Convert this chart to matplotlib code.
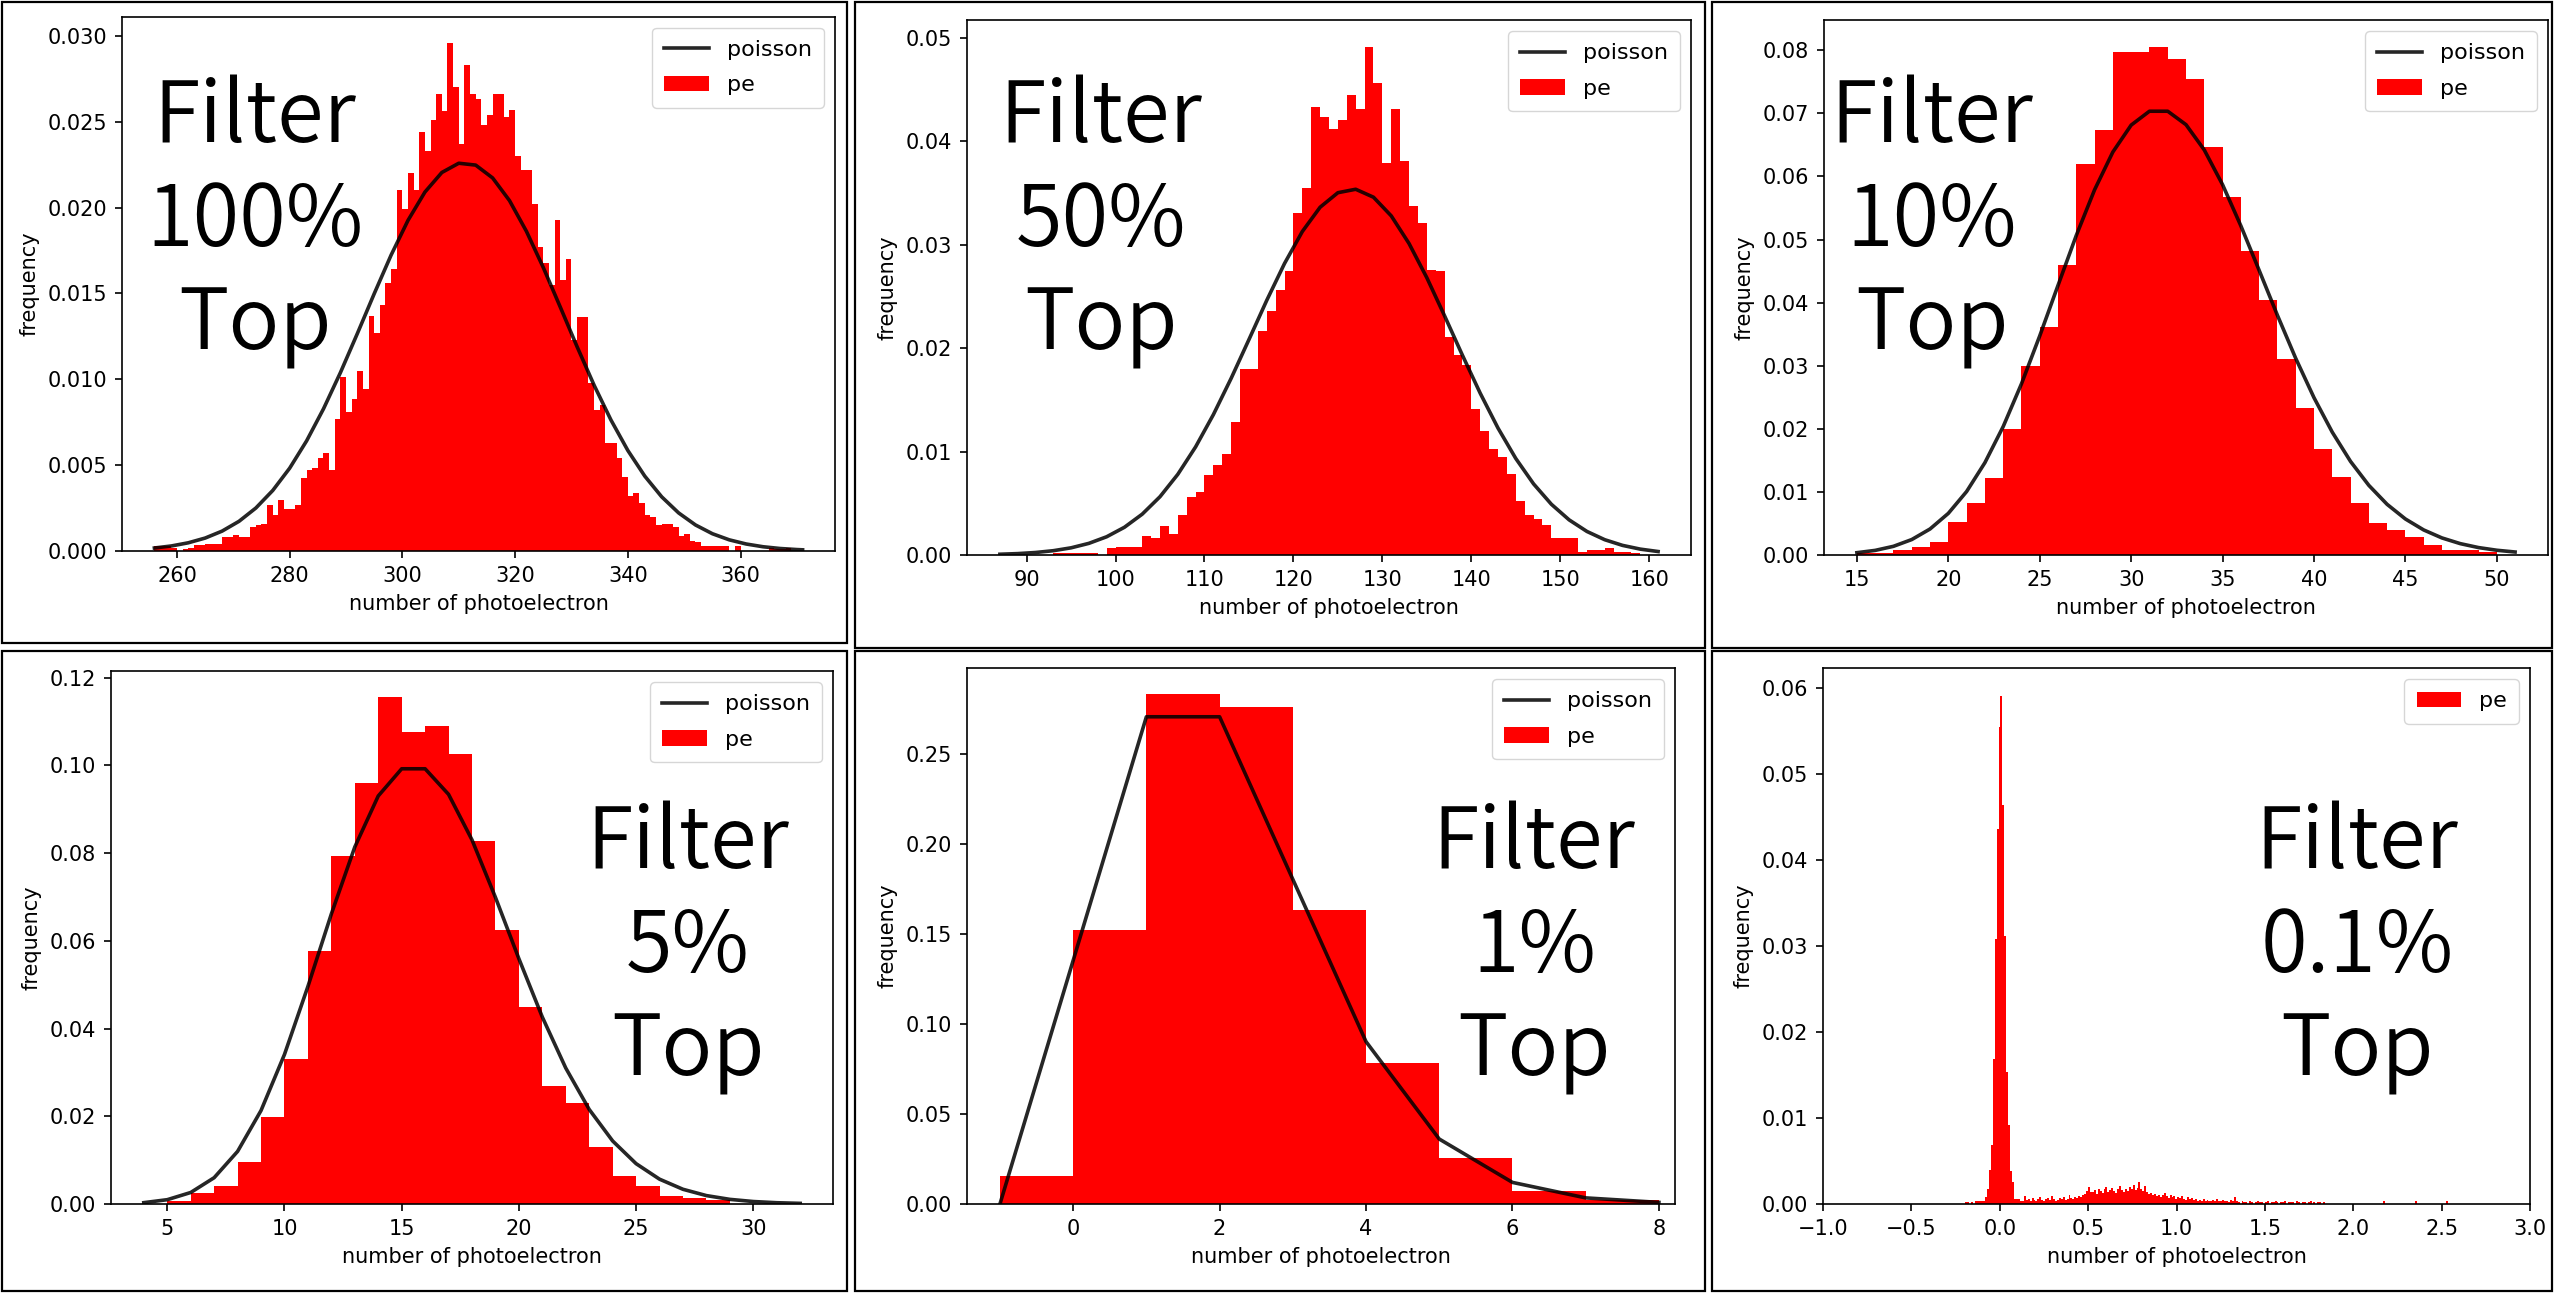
import numpy as np
import matplotlib
matplotlib.use("Agg")
import matplotlib.pyplot as plt
from matplotlib.patches import Rectangle

# Photoelectron count histograms for six filter settings, with Poisson reference

W, H = 2554, 1293

# ---- data -------------------------------------------------------------
# 100% filter (bin width 1, first edge 256), frequency in units of 1e-3
pe100_start = 256
pe100 = [0.3, 0.3, 0.3, 0.2, 0.0, 0.1, 0.2, 0.33, 0.33, 0.39,
         0.39, 0.39, 0.79, 0.79, 0.95, 0.79, 0.79, 1.4, 1.5, 1.6,
         2.66, 2.07, 2.95, 2.46, 2.46, 2.66, 4.23, 4.73, 4.82, 5.42,
         5.71, 4.73, 7.68, 10.14, 8.07, 8.86, 10.5, 9.45, 13.7, 12.7,
         14.3, 15.6, 16.4, 21.0, 19.9, 22.0, 21.0, 24.4, 23.3, 25.1,
         26.6, 25.6, 29.6, 27.0, 23.7, 28.3, 26.6, 26.3, 24.8, 25.4,
         26.6, 26.6, 25.3, 25.7, 23.0, 22.2, 22.2, 20.2, 17.7, 16.8,
         15.5, 19.3, 15.8, 17.0, 12.3, 13.6, 13.6, 9.8, 8.2, 8.5,
         6.3, 6.3, 5.4, 4.3, 3.2, 3.4, 2.8, 2.1, 2.0, 1.5,
         1.6, 1.6, 1.4, 0.9, 1.0, 0.6, 0.5, 0.3, 0.3, 0.3,
         0.3, 0.3, 0.0, 0.3, 0.0, 0.0, 0.0, 0.0, 0.0, 0.2,
         0.1, 0.1, 0.2, 0.0]
poi100_x = [256, 259, 262, 265, 268, 271, 274, 277, 280, 283,
            286, 289, 292, 295, 298, 301, 304, 307, 310, 313,
            316, 319, 322, 325, 328, 331, 334, 337, 340, 343,
            346, 349, 352, 355, 358, 361, 364, 367, 370, 371]
poi100_y = [0.000175, 0.000293, 0.000477, 0.000753, 0.001157, 0.001727, 0.002504,
            0.003527, 0.004825, 0.006413, 0.008281, 0.010389, 0.012660, 0.014988,
            0.017239, 0.019261, 0.020907, 0.022046, 0.022584, 0.022475, 0.021729,
            0.020408, 0.018621, 0.016506, 0.014214, 0.011891, 0.009663, 0.007630,
            0.005852, 0.004361, 0.003156, 0.002220, 0.001516, 0.001006, 0.000649,
            0.000407, 0.000247, 0.000146, 0.000084, 0.000069]

# 50% filter (bin width 1, first edge 93), units of 1e-3
pe50_start = 93
pe50 = [0.2, 0.2, 0.2, 0.2, 0.2, 0.0, 0.65, 0.8, 0.8, 0.8,
        1.8, 1.6, 2.8, 2.0, 3.9, 5.6, 6.1, 7.7, 8.7, 9.8,
        12.9, 18.0, 18.0, 21.7, 23.6, 25.6, 27.5, 33.1, 35.5, 43.3,
        42.4, 41.2, 42.1, 44.5, 43.1, 49.1, 45.7, 37.9, 43.1, 38.1,
        33.8, 32.1, 27.6, 27.5, 21.1, 19.3, 18.4, 14.1, 12.0, 10.3,
        9.5, 7.8, 5.2, 3.9, 3.5, 2.9, 1.6, 1.6, 1.6, 0.3,
        0.5, 0.5, 0.65, 0.3, 0.3, 0.2]
poi50_x = [87, 89, 91, 93, 95, 97, 99, 101, 103, 105,
           107, 109, 111, 113, 115, 117, 119, 121, 123, 125,
           127, 129, 131, 133, 135, 137, 139, 141, 143, 145,
           147, 149, 151, 153, 155, 157, 159, 161]
poi50_y = [0.000074, 0.000135, 0.000241, 0.000416, 0.000694, 0.001125, 0.001764,
           0.002682, 0.003951, 0.005640, 0.007802, 0.010456, 0.013580, 0.017091,
           0.020841, 0.024630, 0.028199, 0.031289, 0.033640, 0.035045, 0.035378,
           0.034610, 0.032802, 0.030128, 0.026820, 0.023125, 0.019324, 0.015650,
           0.012278, 0.009336, 0.006878, 0.004909, 0.003397, 0.002277, 0.001479,
           0.000931, 0.000568, 0.000336]

# 10% filter (bin width 1, first edge 15)
pe10_start = 15
pe10 = [0.0003, 0.0003, 0.0008, 0.0012, 0.0020, 0.0052, 0.0083, 0.0122, 0.0199, 0.0300,
        0.0362, 0.0459, 0.0619, 0.0673, 0.0797, 0.0797, 0.0805, 0.0786, 0.0754, 0.0646,
        0.0568, 0.0482, 0.0404, 0.0311, 0.0233, 0.0168, 0.0124, 0.0083, 0.0051, 0.0039,
        0.0029, 0.0016, 0.0008, 0.0008, 0.0005]
poi10_x = list(range(15, 52))
poi10_y = [0.000366, 0.000732, 0.001378, 0.002449, 0.004125, 0.006600, 0.01006,
           0.01463, 0.02035, 0.02713, 0.03473, 0.04274, 0.05066, 0.05789, 0.06388,
           0.06814, 0.07034, 0.07034, 0.06821, 0.06420, 0.05870, 0.05218, 0.04513,
           0.03800, 0.03118, 0.02494, 0.01947, 0.01483, 0.01104, 0.008029, 0.005709,
           0.003972, 0.002704, 0.001803, 0.001177, 0.000753, 0.000473]

# 5% filter (bin width 1, first edge 5)
pe5_start = 5
pe5 = [0.0007, 0.0024, 0.0041, 0.0096, 0.0198, 0.0331, 0.0576, 0.0793, 0.0960, 0.1156,
       0.1077, 0.1089, 0.1026, 0.0827, 0.0625, 0.0448, 0.0269, 0.0230, 0.0130, 0.0064,
       0.0041, 0.0019, 0.0014, 0.0008]
poi5_x = list(range(4, 33))
poi5_y = [0.000307, 0.000983, 0.002622, 0.005994, 0.01199, 0.02131, 0.03409, 0.04959,
          0.06612, 0.08138, 0.09301, 0.09921, 0.09921, 0.09338, 0.08300, 0.06990,
          0.05592, 0.04261, 0.03099, 0.02156, 0.01437, 0.009197, 0.005660, 0.003354,
          0.001917, 0.001057, 0.000564, 0.000291, 0.000146]

# 1% filter (bin width 1, first edge -1)
pe1_start = -1
pe1 = [0.0158, 0.152, 0.2833, 0.2764, 0.1632, 0.0785, 0.0253, 0.0073, 0.0021]
poi1_x = list(range(-1, 9))
poi1_y = [0.0, 0.1353, 0.2707, 0.2707, 0.1804, 0.0902, 0.0361, 0.0120, 0.0034, 0.0009]

# 0.1% filter (bin width 0.011, first edge -0.205), units of 1e-4
pe01_start = -0.205
pe01_width = 0.011
pe01 = [0, 2, 2, 0, 2, 0, 4, 4, 4, 4, 4, 8, 17, 40, 68, 168, 308, 436, 554, 591,
        464, 312, 153, 92, 38, 25, 6, 6, 6, 3, 3, 9,
        5, 6, 4, 7, 5, 3, 6, 8, 5, 4, 6, 7, 5, 9, 6, 4, 5, 7, 6, 8,
        5, 6, 10, 7, 6, 8, 7, 9,
        8, 10, 12, 15, 20, 14,
        14, 16, 12, 18, 15, 13, 17, 20, 14, 16, 19, 15, 13, 17, 21, 16,
        14, 18, 15, 20, 17, 22, 16, 19, 25, 18, 15, 21, 14, 12, 13, 11,
        12, 9, 11, 8, 10, 13, 9, 7, 10, 8, 9, 6, 8, 7, 9, 6, 5, 8, 6, 7,
        5, 6, 4, 5, 3, 6, 4, 5, 4, 3, 5, 4, 6, 3, 4, 5, 3, 4, 2, 5, 3, 8, 3,
        2, 0, 3, 2, 2, 0, 3, 2, 0, 2, 3, 2, 2, 0, 2, 3, 0, 2, 2, 3, 2, 0, 2,
        2, 3, 0, 2, 2, 2, 0, 3, 2, 0, 2, 2, 0, 2, 3, 0, 2, 0, 2, 2, 0, 2, 0,
        0, 0, 0, 0, 0, 0, 0, 0, 0, 0, 0, 0, 0, 0, 0, 0, 0, 0, 0, 0,
        0, 0, 0, 0, 0, 0, 0, 0, 0, 3, 0, 0, 0, 0, 0, 0, 0, 0, 0, 0,
        0, 0, 0, 0, 0, 3, 0, 0, 0, 0, 0, 0, 0, 0, 0, 0, 0, 0, 0, 0,
        0, 3, 0]

labels = ["Filter\n100%\nTop", "Filter\n50%\nTop", "Filter\n10%\nTop",
          "Filter\n5%\nTop", "Filter\n1%\nTop", "Filter\n0.1%\nTop"]

# ---- layout (pixels in the 2554x1293 canvas) ---------------------------
plt.rcParams.update({
    "font.family": "DejaVu Sans",
    "font.size": 15,
    "axes.linewidth": 1.2,
    "axes.labelpad": 6,
    "xtick.major.size": 5.3, "ytick.major.size": 5.3,
    "xtick.major.width": 1.2, "ytick.major.width": 1.2,
    "xtick.major.pad": 5.3, "ytick.major.pad": 5.3,
    "legend.fontsize": 16,
    "legend.labelspacing": 0.7,
    "legend.borderpad": 0.55,
})


def frac(x0, y0, x1, y1):
    return [x0 / W, 1 - y1 / H, (x1 - x0) / W, (y1 - y0) / H]


fig = plt.figure(figsize=(W / 100, H / 100), dpi=100)

panels = [
    dict(frame=(2, 2, 847, 643), box=(122, 16.5, 835, 551),
         edges=np.arange(pe100_start, pe100_start + len(pe100) + 1),
         vals=np.array(pe100) * 1e-3, px=poi100_x, py=poi100_y,
         xlim=(250.25, 376.75), ylim=(0, 0.03113),
         xt=np.arange(260, 361, 20), yt=np.arange(0, 0.0301, 0.005),
         text=(255, 222)),
    dict(frame=(855, 2, 1705, 648), box=(967, 20, 1691, 555),
         edges=np.arange(pe50_start, pe50_start + len(pe50) + 1),
         vals=np.array(pe50) * 1e-3, px=poi50_x, py=poi50_y,
         xlim=(83.3, 164.7), ylim=(0, 0.05175),
         xt=np.arange(90, 161, 10), yt=np.arange(0, 0.051, 0.01),
         text=(1101, 222)),
    dict(frame=(1712, 2, 2552, 648), box=(1824, 20, 2548, 555),
         edges=np.arange(pe10_start, pe10_start + len(pe10) + 1),
         vals=np.array(pe10), px=poi10_x, py=poi10_y,
         xlim=(13.2, 52.8), ylim=(0, 0.0848),
         xt=np.arange(15, 51, 5), yt=np.arange(0, 0.081, 0.01),
         text=(1932, 222)),
    dict(frame=(2, 651, 847, 1291), box=(111, 671, 833, 1204),
         edges=np.arange(pe5_start, pe5_start + len(pe5) + 1),
         vals=np.array(pe5), px=poi5_x, py=poi5_y,
         xlim=(2.6, 33.4), ylim=(0, 0.1215),
         xt=np.arange(5, 31, 5), yt=np.arange(0, 0.121, 0.02),
         text=(688, 948)),
    dict(frame=(855, 651, 1705, 1291), box=(967, 668, 1675, 1204),
         edges=np.arange(pe1_start, pe1_start + len(pe1) + 1),
         vals=np.array(pe1), px=poi1_x, py=poi1_y,
         xlim=(-1.45, 8.22), ylim=(0, 0.2978),
         xt=np.arange(0, 9, 2), yt=np.arange(0, 0.251, 0.05),
         text=(1534, 948)),
    dict(frame=(1712, 651, 2552, 1291), box=(1823, 668, 2530, 1204),
         edges=pe01_start + pe01_width * np.arange(len(pe01) + 1),
         vals=np.array(pe01) * 1e-4, px=None, py=None,
         xlim=(-1.0, 3.0), ylim=(0, 0.0623),
         xt=np.arange(-1.0, 3.01, 0.5), yt=np.arange(0, 0.061, 0.01),
         text=(2357, 948)),
]

for p, label in zip(panels, labels):
    # panel outline
    x0, y0, x1, y1 = p["frame"]
    fig.add_artist(Rectangle((x0 / W, 1 - y1 / H), (x1 - x0) / W, (y1 - y0) / H,
                             transform=fig.transFigure, fill=False,
                             edgecolor="black", linewidth=1.6))

    ax = fig.add_axes(frac(*p["box"]))
    if p["px"] is not None:
        ax.plot(p["px"], p["py"], color="k", alpha=0.85, lw=2.6,
                label="poisson", zorder=3)
    ax.stairs(p["vals"], p["edges"], fill=True, color="red", lw=0, label="pe")

    ax.set_xlim(*p["xlim"])
    ax.set_ylim(*p["ylim"])
    ax.set_xticks(p["xt"])
    ax.set_yticks(p["yt"])
    ax.set_xlabel("number of photoelectron")
    ax.set_ylabel("frequency")
    ax.legend(loc="upper right")

    tx, ty = p["text"]
    fig.text(tx / W, 1 - ty / H, label, ha="center", va="center",
             multialignment="center", fontsize=61, fontweight=350,
             family=["Noto Sans CJK JP", "DejaVu Sans"], linespacing=1.25,
             zorder=10)

fig.savefig("out.png", dpi=100, facecolor="white")
